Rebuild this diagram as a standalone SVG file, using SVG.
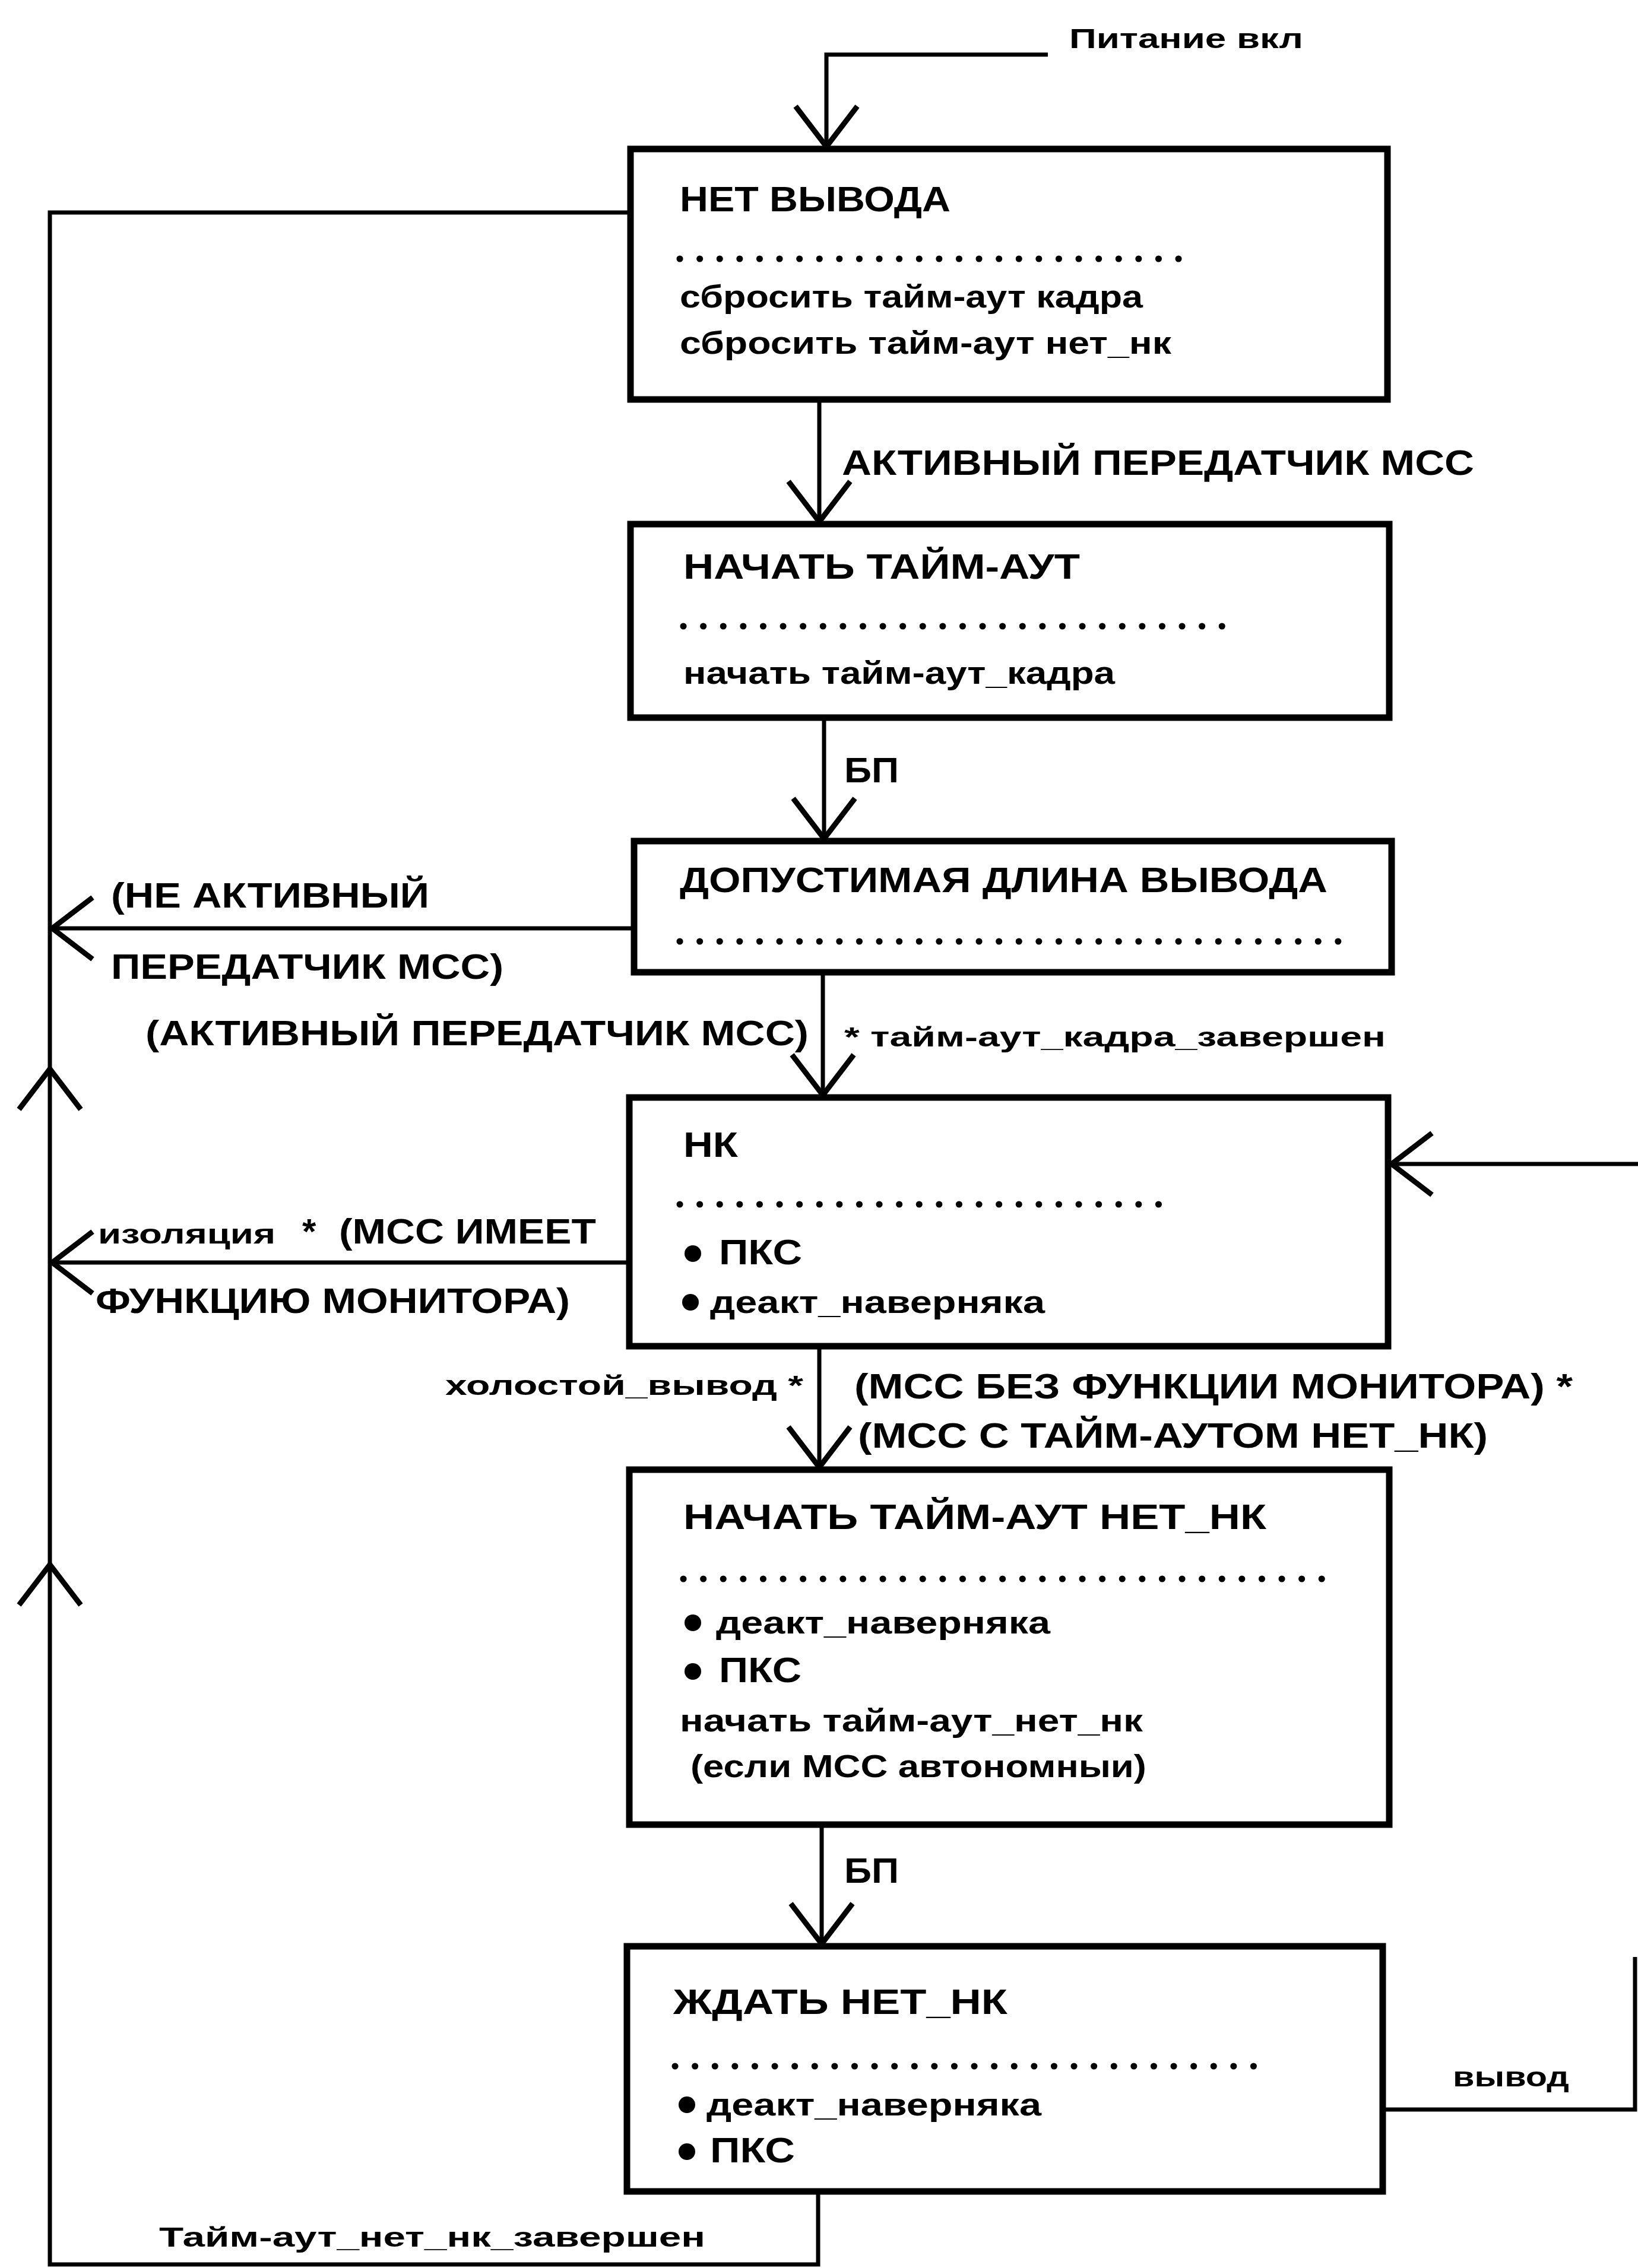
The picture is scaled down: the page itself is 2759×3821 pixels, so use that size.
<svg xmlns="http://www.w3.org/2000/svg" xmlns:xlink="http://www.w3.org/1999/xlink" width="2759" height="3821" viewBox="0 0 2759 3821">
<style>
.box{fill:#fff;stroke:#000;stroke-width:11}
.ln{fill:none;stroke:#000;stroke-width:7;stroke-linejoin:miter}
.dots{stroke:#000;stroke-width:11;stroke-linecap:round;stroke-dasharray:0.1 33.5}
.t{font-family:"Liberation Sans",Arial,sans-serif;font-weight:bold;fill:#000}
.h{font-size:60px}
.s{font-size:54px}
.m{font-size:47px}
.bul{fill:#000}
</style>
<defs>
<marker id="arr" markerUnits="userSpaceOnUse" viewBox="-80 -60 90 120" refX="0" refY="0" markerWidth="90" markerHeight="120" orient="auto" overflow="visible">
<path d="M -68 -52 L 0 0 L -68 52" fill="none" stroke="#000" stroke-width="9"/>
</marker>
<path id="ah" d="M -68 -52 L 0 0 L -68 52" fill="none" stroke="#000" stroke-width="9"/>
</defs>

<g id="connectors">
<polyline class="ln" points="1765,92 1392,92 1392,247" marker-end="url(#arr)"/>
<line class="ln" x1="1380" y1="673" x2="1380" y2="879" marker-end="url(#arr)"/>
<line class="ln" x1="1388" y1="1209" x2="1388" y2="1413" marker-end="url(#arr)"/>
<line class="ln" x1="1386" y1="1638" x2="1386" y2="1845" marker-end="url(#arr)"/>
<line class="ln" x1="1380" y1="2268" x2="1380" y2="2472" marker-end="url(#arr)"/>
<line class="ln" x1="1384" y1="3074" x2="1384" y2="3275" marker-end="url(#arr)"/>
<polyline class="ln" points="1378,3692 1378,3815 84,3815 84,358 1062,358"/>
<use xlink:href="#ah" transform="translate(84,1801) rotate(-90)"/>
<use xlink:href="#ah" transform="translate(84,2636) rotate(-90)"/>
<line class="ln" x1="1068" y1="1564" x2="88" y2="1564" marker-end="url(#arr)"/>
<line class="ln" x1="1060" y1="2127" x2="88" y2="2127" marker-end="url(#arr)"/>
<line class="ln" x1="2759" y1="1961" x2="2344" y2="1961" marker-end="url(#arr)"/>
<polyline class="ln" points="2329,3554 2754,3554 2754,3297"/>
</g>

<g id="labels">
<text class="t m" x="1801" y="81" textLength="394" lengthAdjust="spacingAndGlyphs">Питание вкл</text>
<text class="t h" x="1418" y="800" textLength="1065" lengthAdjust="spacingAndGlyphs">АКТИВНЫЙ ПЕРЕДАТЧИК МСС</text>
<text class="t h" x="1422" y="1318" textLength="92" lengthAdjust="spacingAndGlyphs">БП</text>
<text class="t h" x="187" y="1529" textLength="536" lengthAdjust="spacingAndGlyphs">(НЕ АКТИВНЫЙ</text>
<text class="t h" x="187" y="1649" textLength="661" lengthAdjust="spacingAndGlyphs">ПЕРЕДАТЧИК МСС)</text>
<text class="t h" x="245" y="1761" textLength="1117" lengthAdjust="spacingAndGlyphs">(АКТИВНЫЙ ПЕРЕДАТЧИК МСС)</text>
<text class="t m" x="1422" y="1763" textLength="912" lengthAdjust="spacingAndGlyphs">* тайм-аут_кадра_завершен</text>
<text class="t m" x="165" y="2095" textLength="299" lengthAdjust="spacingAndGlyphs">изоляция</text>
<text class="t h" x="509" y="2095">*</text>
<text class="t h" x="571" y="2095" textLength="433" lengthAdjust="spacingAndGlyphs">(МСС ИМЕЕТ</text>
<text class="t h" x="161" y="2212" textLength="799" lengthAdjust="spacingAndGlyphs">ФУНКЦИЮ МОНИТОРА)</text>
<text class="t m" x="750" y="2350" textLength="603" lengthAdjust="spacingAndGlyphs">холостой_вывод *</text>
<text class="t h" x="1439" y="2356" textLength="1210" lengthAdjust="spacingAndGlyphs">(МСС БЕЗ ФУНКЦИИ МОНИТОРА) *</text>
<text class="t h" x="1445" y="2439" textLength="1061" lengthAdjust="spacingAndGlyphs">(МСС С ТАЙМ-АУТОМ НЕТ_НК)</text>
<text class="t h" x="1422" y="3172" textLength="92" lengthAdjust="spacingAndGlyphs">БП</text>
<text class="t m" x="2447" y="3515" textLength="196" lengthAdjust="spacingAndGlyphs">вывод</text>
<text class="t m" x="268" y="3785" textLength="920" lengthAdjust="spacingAndGlyphs">Тайм-аут_нет_нк_завершен</text>
</g>

<g id="node-net-vyvoda">
<rect class="box" x="1062" y="251" width="1275" height="422"/>
<text class="t h" x="1145" y="356" textLength="456" lengthAdjust="spacingAndGlyphs">НЕТ ВЫВОДА</text>
<line class="dots" x1="1145" y1="436" x2="1993" y2="436"/>
<text class="t s" x="1145" y="518" textLength="780" lengthAdjust="spacingAndGlyphs">сбросить тайм-аут кадра</text>
<text class="t s" x="1145" y="596" textLength="828" lengthAdjust="spacingAndGlyphs">сбросить тайм-аут нет_нк</text>
</g>

<g id="node-nachat-taimaut">
<rect class="box" x="1062" y="883" width="1278" height="326"/>
<text class="t h" x="1151" y="975" textLength="668" lengthAdjust="spacingAndGlyphs">НАЧАТЬ ТАЙМ-АУТ</text>
<line class="dots" x1="1151" y1="1055" x2="2091" y2="1055"/>
<text class="t s" x="1151" y="1152" textLength="727" lengthAdjust="spacingAndGlyphs">начать тайм-аут_кадра</text>
</g>

<g id="node-dopustimaya">
<rect class="box" x="1068" y="1417" width="1276" height="221"/>
<text class="t h" x="1145" y="1503" textLength="1091" lengthAdjust="spacingAndGlyphs">ДОПУСТИМАЯ ДЛИНА ВЫВОДА</text>
<line class="dots" x1="1145" y1="1586" x2="2275" y2="1586"/>
</g>

<g id="node-nk">
<rect class="box" x="1060" y="1849" width="1278" height="419"/>
<text class="t h" x="1151" y="1949" textLength="92" lengthAdjust="spacingAndGlyphs">НК</text>
<line class="dots" x1="1145" y1="2029" x2="1973" y2="2029"/>
<circle class="bul" cx="1167" cy="2112" r="14"/>
<text class="t h" x="1211" y="2130" textLength="140" lengthAdjust="spacingAndGlyphs">ПКС</text>
<circle class="bul" cx="1163" cy="2194" r="14"/>
<text class="t s" x="1196" y="2212" textLength="564" lengthAdjust="spacingAndGlyphs">деакт_наверняка</text>
</g>

<g id="node-nachat-taimaut-net-nk">
<rect class="box" x="1060" y="2476" width="1280" height="598"/>
<text class="t h" x="1151" y="2576" textLength="982" lengthAdjust="spacingAndGlyphs">НАЧАТЬ ТАЙМ-АУТ НЕТ_НК</text>
<line class="dots" x1="1151" y1="2660" x2="2246" y2="2660"/>
<circle class="bul" cx="1167" cy="2734" r="14"/>
<text class="t s" x="1206" y="2752" textLength="563" lengthAdjust="spacingAndGlyphs">деакт_наверняка</text>
<circle class="bul" cx="1167" cy="2816" r="14"/>
<text class="t h" x="1211" y="2834" textLength="139" lengthAdjust="spacingAndGlyphs">ПКС</text>
<text class="t s" x="1145" y="2917" textLength="780" lengthAdjust="spacingAndGlyphs">начать тайм-аут_нет_нк</text>
<text class="t s" x="1163" y="2994" textLength="768" lengthAdjust="spacingAndGlyphs">(если МСС автономныи)</text>
</g>

<g id="node-zhdat-net-nk">
<rect class="box" x="1056" y="3279" width="1273" height="413"/>
<text class="t h" x="1134" y="3393" textLength="563" lengthAdjust="spacingAndGlyphs">ЖДАТЬ НЕТ_НК</text>
<line class="dots" x1="1137" y1="3481" x2="2115" y2="3481"/>
<circle class="bul" cx="1157" cy="3546" r="14"/>
<text class="t s" x="1190" y="3564" textLength="564" lengthAdjust="spacingAndGlyphs">деакт_наверняка</text>
<circle class="bul" cx="1157" cy="3625" r="14"/>
<text class="t h" x="1196" y="3643" textLength="143" lengthAdjust="spacingAndGlyphs">ПКС</text>
</g>
</svg>
